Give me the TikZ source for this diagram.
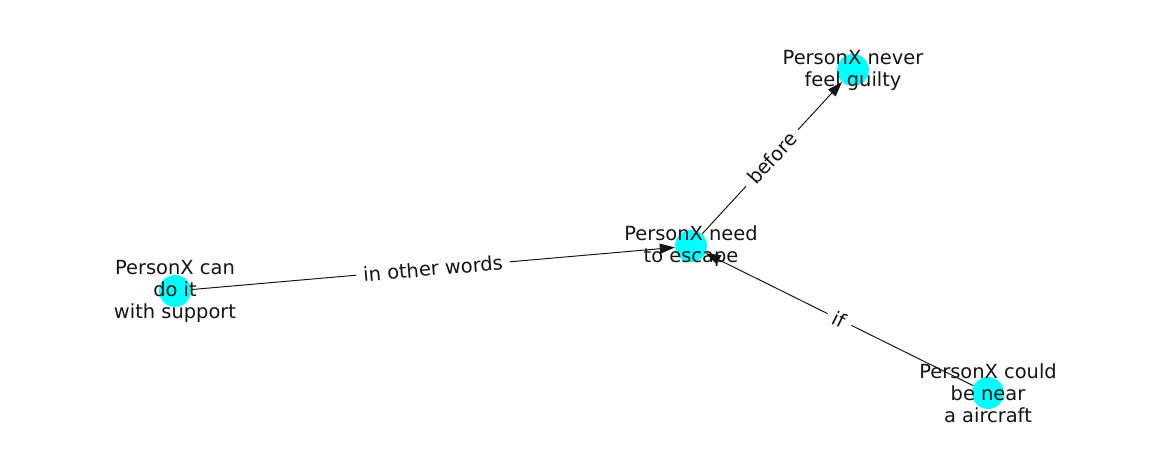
\documentclass[tikz,border=0pt]{standalone}
\usepackage{fontspec}
\setmainfont{DejaVu Sans}
\usetikzlibrary{arrows.meta}
\definecolor{nodecyan}{RGB}{0,255,255}

\begin{document}
\begin{tikzpicture}[
    x=0.72pt, y=-0.72pt,
    dot/.style={circle, fill=nodecyan, minimum size=23pt, inner sep=0pt},
    txt/.style={align=center, font=\fontsize{14}{15.8}\selectfont, text=black!92},
    rel/.style={-{Triangle[length=10.8pt, width=7.2pt]}, black!92, line width=0.7pt},
    tag/.style={midway, sloped, fill=white, inner sep=5pt, font=\fontsize{14}{15.8}\selectfont, text=black!92}
]
\useasboundingbox (0,0) rectangle (1162,462);

\node[dot] (can) at (175,291) {};
\node[dot] (escape) at (691,246) {};
\node[dot] (guilty) at (853,70) {};
\node[dot] (aircraft) at (988,393) {};

\draw[rel] (can) -- node[tag] {in other words} (escape);
\draw[rel] (escape) -- node[tag] {before} (guilty);
\draw[rel] (aircraft) -- node[tag] {if} (escape);

\node[txt] (cantext) at (can) {PersonX can\\do it\\with support};
\node[txt] (escapetext) at (escape) {PersonX need\\to escape};
\node[txt] (guiltytext) at (guilty) {PersonX never\\feel guilty};
\node[txt] (aircrafttext) at (aircraft) {PersonX could\\be near\\a aircraft};

\end{tikzpicture}
\end{document}
